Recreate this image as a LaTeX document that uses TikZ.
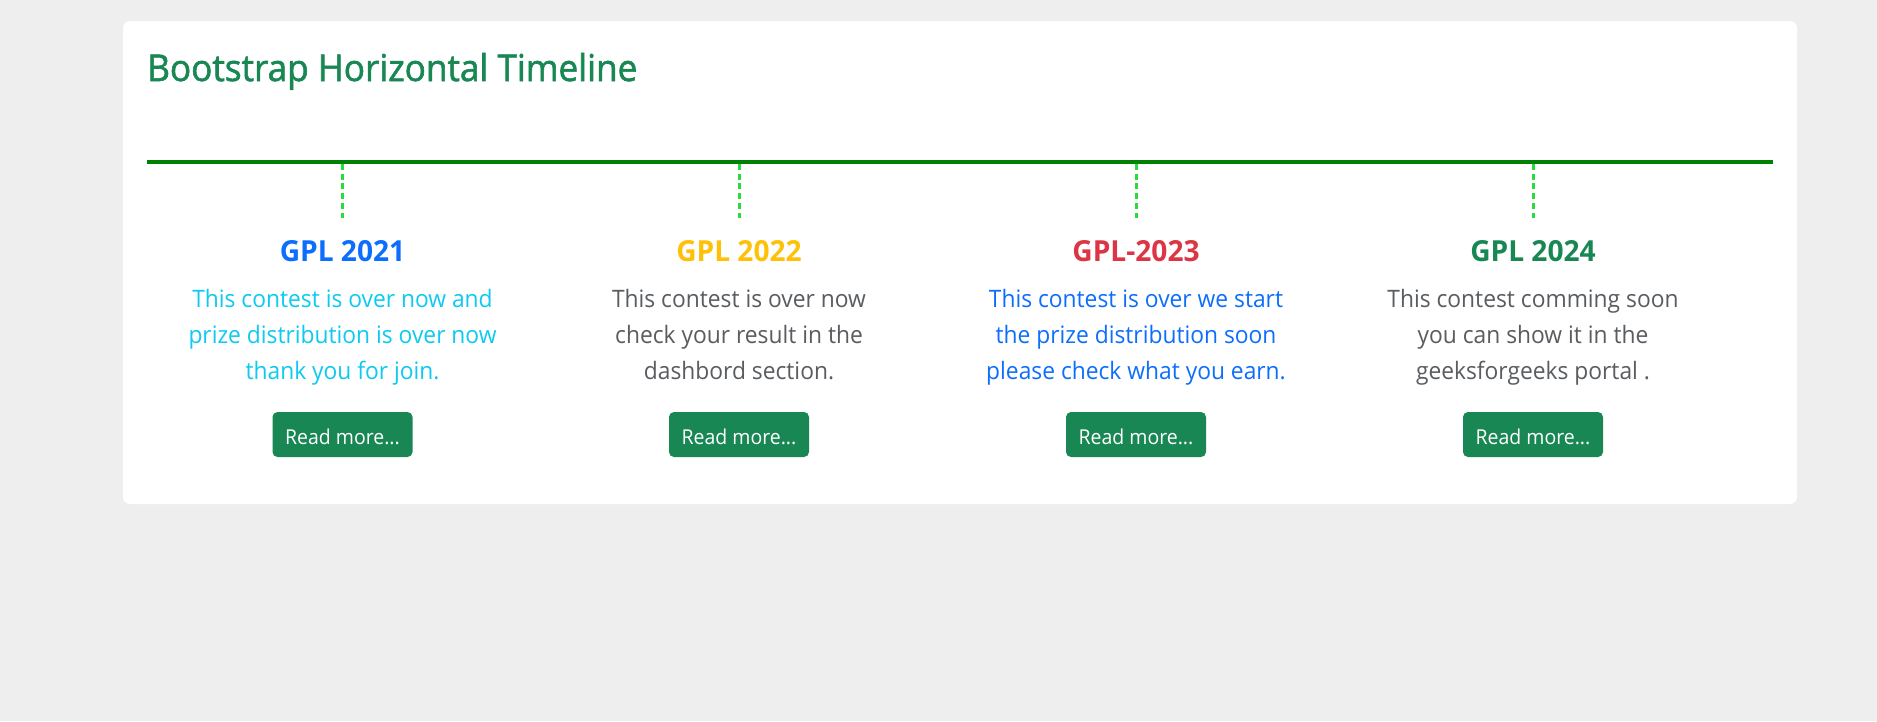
\documentclass[tikz,border=0pt]{standalone}
\usepackage{fontspec}
\setmainfont{Open Sans}[FakeStretch=0.95]
\newfontfamily\titlefont{Open Sans}[FakeStretch=0.95, FakeBold=1.6]
\newfontfamily\headfont{Open Sans}[FakeStretch=0.97, BoldFeatures={FakeStretch=0.97}]
\definecolor{pagebg}{RGB}{238,238,238}
\definecolor{bsuccess}{HTML}{198754}
\definecolor{bprimary}{HTML}{0D6EFD}
\definecolor{binfo}{HTML}{0DCAF0}
\definecolor{bwarning}{HTML}{FFC107}
\definecolor{bdanger}{HTML}{DC3545}
\definecolor{bmuted}{HTML}{595C60}
\definecolor{lineg}{HTML}{008000}
\definecolor{tickg}{RGB}{40,220,60}
\newcommand\threelines[3]{\vtop{\halign{\hfil##\hfil\cr #1\cr #2\cr #3\cr}}}
\newcommand\fsz[2]{\fontsize{#1}{#2}\selectfont}
\tikzset{
  heading/.style={anchor=base, inner sep=0pt, font=\fsz{29}{35}\headfont\bfseries},
  bodytext/.style={anchor=base, inner sep=0pt, font=\fsz{24}{36}},
  button/.style={fill=bsuccess, rounded corners=5pt, minimum width=140pt, minimum height=45pt, inner sep=0pt},
  btntext/.style={anchor=base, inner sep=0pt, text=white, font=\fsz{20.5}{26}},
  tick/.style={draw=tickg, line width=3pt, dash pattern=on 6pt off 3.7pt},
}
\begin{document}
\begin{tikzpicture}[x=1pt,y=-1pt]
\useasboundingbox (0,0) rectangle (1877,721);
\fill[pagebg] (0,0) rectangle (1877,721);
\fill[white, rounded corners=7pt] (123,21) rectangle (1797,504);
\node[anchor=base west, inner sep=0pt, text=bsuccess, font=\fsz{37}{44}\titlefont] (title) at (147,81) {Bootstrap Horizontal Timeline};
\coordinate (ls) at (147,162);
\coordinate (le) at (1773,162);
\draw[lineg, line width=4pt] (ls) -- (le);
% columns
\foreach \i/\cx in {1/342.5, 2/739, 3/1136, 4/1533}{
  \coordinate (t\i a) at (\cx,164);
  \coordinate (t\i b) at (\cx,218);
  \draw[tick] (t\i a) -- (t\i b);
  \node[button] (btn\i) at (\cx,434.5) {};
  \node[btntext] (bt\i) at (\cx,444) {Read more...};
}
\node[heading, text=bprimary] (h1) at (342.5,261) {GPL 2021};
\node[heading, text=bwarning] (h2) at (739,261) {GPL 2022};
\node[heading, text=bdanger] (h3) at (1136,261) {GPL-2023};
\node[heading, text=bsuccess] (h4) at (1533,261) {GPL 2024};
\node[bodytext, text=binfo] (p1) at (342.5,307) {\threelines{This contest is over now and}{prize distribution is over now}{thank you for join.}};
\node[bodytext, text=bmuted] (p2) at (739,307) {\threelines{This contest is over now}{check your result in the}{dashbord section.}};
\node[bodytext, text=bprimary] (p3) at (1136,307) {\threelines{This contest is over we start}{the prize distribution soon}{please check what you earn.}};
\node[bodytext, text=bmuted] (p4) at (1533,307) {\threelines{This contest comming soon}{you can show it in the}{geeksforgeeks portal .}};
\end{tikzpicture}
\end{document}
